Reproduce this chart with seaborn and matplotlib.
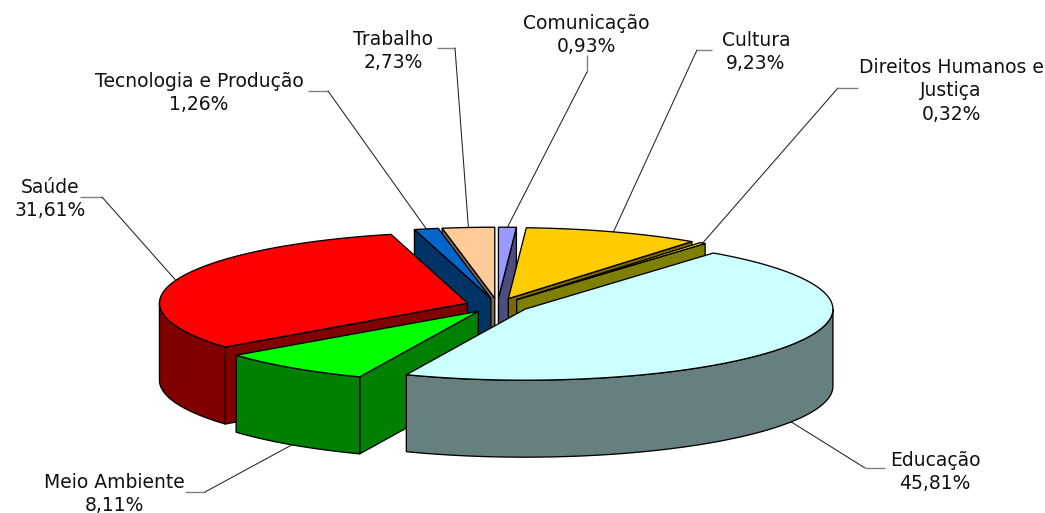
import numpy as np
import matplotlib
matplotlib.use("Agg")
import matplotlib.pyplot as plt
from matplotlib.patches import Polygon
import seaborn as sns

categories = ["Comunicação", "Cultura", "Direitos Humanos e\nJustiça", "Educação",
              "Meio Ambiente", "Saúde", "Tecnologia e Produção", "Trabalho"]
values = [0.93, 9.23, 0.32, 45.81, 8.11, 31.61, 1.26, 2.73]
value_labels = ["0,93%", "9,23%", "0,32%", "45,81%", "8,11%", "31,61%", "1,26%", "2,73%"]
top_colors = ["#9999FF", "#FFCC00", "#FFFF00", "#CCFFFF", "#00FF00", "#FF0000", "#0066CC", "#FFCC99"]

# text centre and elbow of each label's leader line
label_pos = [(586, 35), (756, 52), (951, 91), (935, 472), (114, 494), (50, 199), (199, 93), (393, 51)]
elbow_from = [(587, 55), (712, 50), (858, 88), (885, 468), (185, 492), (80, 197), (308, 91), (437, 48)]
elbow_to = [(587, 72), (697, 50), (838, 88), (865, 468), (205, 492), (102, 197), (328, 91), (455, 48)]

CX, CY, RX, RY, DEPTH, EXPLODE = 497.5, 305.5, 308, 71, 77, 0.103

sns.set_style("white")
palette = sns.color_palette(top_colors)
fig = plt.figure(figsize=(10.45, 5.13), dpi=100)
ax = fig.add_axes([0, 0, 1, 1])
ax.set_xlim(0, 1045)
ax.set_ylim(513, 0)
ax.axis("off")

fractions = np.array(values) / np.sum(values) * 360
ends = np.cumsum(fractions)
starts = ends - fractions
mids = (starts + ends) / 2


def rim(deg, apex):
    t = np.radians(deg)
    return apex[0] + RX * np.sin(t), apex[1] - RY * np.cos(t)


def poly(points, color, z):
    ax.add_patch(Polygon(points, closed=True, facecolor=color, edgecolor="black",
                         linewidth=0.95, joinstyle="round", zorder=z))


def draw_wedge(i, z):
    a, b, m = starts[i], ends[i], np.radians(mids[i])
    apex = (CX + EXPLODE * RX * np.sin(m), CY - EXPLODE * RY * np.cos(m))
    top = np.array(palette[i])
    side = tuple(top * 0.5)
    down = np.array([0, DEPTH])
    for deg, sign in ((a, -1), (b, 1)):
        if sign * np.sin(np.radians(deg)) > 0:
            p = np.array(rim(deg, apex))
            q = np.array(apex)
            poly([q, p, p + down, q + down], side, z)
    lo, hi = max(a, 90), min(b, 270)
    if hi > lo:
        arc = np.array([rim(d, apex) for d in np.linspace(lo, hi, 80)])
        poly(np.vstack([arc, arc[::-1] + down]), side, z + 0.1)
    arc = [rim(d, apex) for d in np.linspace(a, b, 120)]
    poly([apex] + arc, top, z + 0.2)
    return apex


# painter's order: back wedges first, front wedges last
draw_order = [7, 0, 6, 1, 2, 5, 4, 3]
apexes = {}
for z, i in enumerate(draw_order, start=2):
    apexes[i] = draw_wedge(i, z)

for i, name in enumerate(categories):
    x, y = rim(mids[i], apexes[i])
    if np.cos(np.radians(mids[i])) < 0:
        y += DEPTH
    ax.plot([elbow_from[i][0], elbow_to[i][0]], [elbow_from[i][1], elbow_to[i][1]],
            color="#808080", lw=1.0, zorder=1, solid_capstyle="butt")
    ax.plot([elbow_to[i][0], x], [elbow_to[i][1], y], color="#222222", lw=0.75, zorder=1)
    ax.text(label_pos[i][0], label_pos[i][1], f"{name}\n{value_labels[i]}", ha="center", va="center",
            fontsize=13.5, family="DejaVu Sans", color="#111111", linespacing=1.27, zorder=20)

fig.savefig("out.png", dpi=100, facecolor="white")
